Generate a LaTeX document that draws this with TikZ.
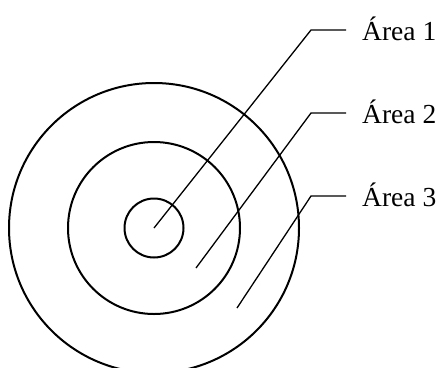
\documentclass[tikz,border=0pt]{standalone}
\usepackage{fontspec}
\setmainfont{Liberation Serif}
\begin{document}
\begin{tikzpicture}[x=1pt,y=-1pt,
  ring/.style={draw, circle, line width=2pt, inner sep=0pt},
  leader/.style={line width=1.3pt},
  lbl/.style={anchor=base west, inner sep=0pt, font=\fontsize{27.5}{32}\selectfont}]
\useasboundingbox (0,0) rectangle (441,367);
\node[ring, minimum size=290pt] (outer) at (154,228) {};
\node[ring, minimum size=172pt] (middle) at (154,228) {};
\node[ring, minimum size=59pt] (inner) at (154,228) {};
\node[lbl] (t1) at (362,40) {Área 1};
\node[lbl] (t2) at (362,123) {Área 2};
\node[lbl] (t3) at (362,206) {Área 3};
\coordinate (s1) at (154,228);
\coordinate (s2) at (196,268);
\coordinate (s3) at (237,308);
\coordinate (k1) at (311,30);
\coordinate (k2) at (311,113);
\coordinate (k3) at (311,196);
\coordinate (e1) at (346,30);
\coordinate (e2) at (346,113);
\coordinate (e3) at (346,196);
\draw[leader] (s1) -- (k1) -- (e1);
\draw[leader] (s2) -- (k2) -- (e2);
\draw[leader] (s3) -- (k3) -- (e3);
\end{tikzpicture}
\end{document}
